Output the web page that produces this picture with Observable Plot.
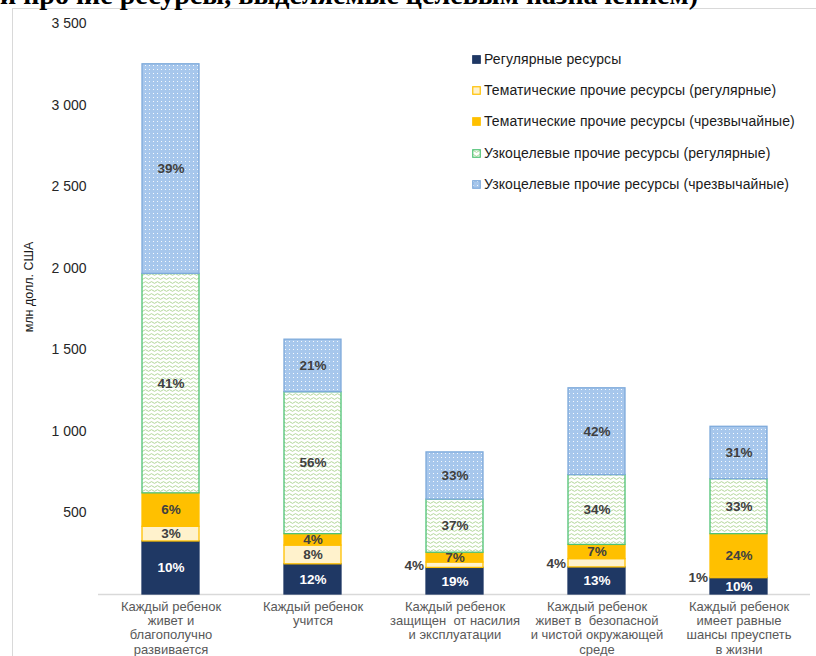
<!DOCTYPE html>
<html><head><meta charset="utf-8">
<script src="https://cdn.jsdelivr.net/npm/d3@7"></script>
<script src="https://cdn.jsdelivr.net/npm/@observablehq/plot@0.6"></script>
<style>
body{margin:0;background:#fff;font-family:"Liberation Sans",Arial,sans-serif;}
#wrap{position:relative;width:816px;height:656px;overflow:hidden;background:#fff;}
#frame{position:absolute;left:12px;top:8px;width:900px;height:700px;border-left:1.5px solid #d9d9d9;border-top:1.5px solid #d9d9d9;}
#chart{position:absolute;left:0;top:0;}
#title{position:absolute;left:0;top:0;}
#legend{position:absolute;left:472px;top:50px;font-size:14px;color:#1a1a1a;}
#legend .item{position:absolute;left:0;white-space:nowrap;height:18px;line-height:18px;}
#legend svg{position:absolute;left:0;top:5px;}
#legend span{position:absolute;left:12px;top:0;letter-spacing:0.1px;}
</style>
</head><body>
<svg width="0" height="0" style="position:absolute">
  <defs>
    <pattern id="dots" width="4" height="4" patternUnits="userSpaceOnUse">
      <rect width="4" height="4" fill="#A7C7EC"/>
      <rect x="1" y="1" width="1" height="1" fill="#ffffff" opacity="0.9"/>
    </pattern>
    <pattern id="wave" width="6" height="4" patternUnits="userSpaceOnUse">
      <rect width="6" height="4" fill="#ffffff"/>
      <path d="M0 2.5 Q1.5 0.8 3 2.5 T6 2.5" fill="none" stroke="#A9D18E" stroke-width="0.9"/>
    </pattern>
  </defs>
</svg>
<div id="wrap">
  <div id="frame"></div>
  <div id="chart"></div>
  <svg id="title" width="816" height="20"><text x="0" y="4" font-family="Liberation Serif" font-weight="bold" font-size="28" textLength="698" lengthAdjust="spacingAndGlyphs">и прочие ресурсы, выделяемые целевым назначением)</text></svg>
  <div id="legend"></div>
</div>
<script>
// ---- data ----
const categories = [
  "Каждый ребенок\nживет и\nблагополучно\nразвивается",
  "Каждый ребенок\nучится",
  "Каждый ребенок\nзащищен  от насилия\nи эксплуатации",
  "Каждый ребенок\nживет в  безопасной\nи чистой окружающей\nсреде",
  "Каждый ребенок\nимеет равные\nшансы преуспеть\nв жизни"
];
const series = [
  "Регулярные ресурсы",
  "Тематические прочие ресурсы (регулярные)",
  "Тематические прочие ресурсы (чрезвычайные)",
  "Узкоцелевые прочие ресурсы (регулярные)",
  "Узкоцелевые прочие ресурсы (чрезвычайные)"
];
// values, млн долл. США
const regular   = [325, 185, 163, 166, 100];
const themReg   = [ 90, 115,  33,  51,  10];
const themEm    = [205,  70,  60,  87, 260];
const narrowReg = [1345, 870, 326, 428, 337];
const narrowEm  = [1285, 322, 289, 532, 321];
// percent labels
const pctRegular   = [10, 12, 19, 13, 10];
const pctThemReg   = [3, 8, 4, 4, 1];
const pctThemEm    = [6, 4, 7, 7, 24];
const pctNarrowReg = [41, 56, 37, 34, 33];
const pctNarrowEm  = [39, 21, 33, 42, 31];
const yTicks = [500, 1000, 1500, 2000, 2500, 3000, 3500];
const yLabel = "млн долл. США";

// ---- styles ----
const fills   = ["#1F3864", "#FFF2CC", "#FFC000", "url(#wave)", "url(#dots)"];
const strokes = ["#1F3864", "#FFC000", "#FFC000", "#4EC274", "#7EAADB"];
const txtCol  = ["#ffffff", "#404040", "#404040", "#404040", "#404040"];

const valueSets = [regular, themReg, themEm, narrowReg, narrowEm];
const pctSets = [pctRegular, pctThemReg, pctThemEm, pctNarrowReg, pctNarrowEm];

const rows = [];
categories.forEach((cat, i) => {
  let acc = 0;
  series.forEach((s, j) => {
    const v = valueSets[j][i];
    const y1 = acc, y2 = acc + v;
    acc = y2;
    rows.push({cat, series: s, y1, y2, mid: (y1 + y2) / 2,
      label: pctSets[j][i] + "%", fill: fills[j], stroke: strokes[j], txt: txtCol[j],
      outside: v < 55});
  });
});

const chart = Plot.plot({
  width: 816, height: 656,
  marginLeft: 98, marginRight: 6, marginTop: 23, marginBottom: 62,
  style: {fontFamily: "'Liberation Sans', Arial, sans-serif", background: "transparent"},
  x: {domain: categories, paddingInner: 0.6, paddingOuter: 0.3, axis: null},
  y: {domain: [0, 3500], axis: null},
  color: {type: "identity"},
  marks: [
    Plot.ruleY([0], {stroke: "#d9d9d9", strokeWidth: 1.5}),
    Plot.barY(rows, {x: "cat", y1: "y1", y2: "y2", fill: "fill", stroke: "stroke", strokeWidth: 1.3}),
    Plot.text(rows.filter(d => !d.outside), {x: "cat", y: "mid", text: "label", fill: "txt",
      fontWeight: "bold", fontSize: 13.5}),
    Plot.text(rows.filter(d => d.outside), {x: "cat", y: "mid", text: "label", fill: "#404040",
      fontWeight: "bold", fontSize: 13.5, textAnchor: "end", dx: -31}),
    Plot.axisY(yTicks, {tickSize: 0, tickPadding: 12, fontSize: 14, color: "#262626",
      tickFormat: d => d3.format(",")(d).replace(",", " "), label: null}),
    Plot.axisX({tickSize: 0, tickPadding: 6, fontSize: 13, color: "#595959", lineHeight: 1.1, label: null})
  ]
});
d3.select(chart).append("text")
  .attr("transform", "translate(33,287) rotate(-90)")
  .attr("text-anchor", "middle")
  .attr("font-size", 12.5)
  .attr("fill", "#1a1a1a")
  .text(yLabel);
document.getElementById("chart").appendChild(chart);

// legend
const leg = d3.select("#legend");
const legY = [0, 31, 62, 94, 125];
series.forEach((s, j) => {
  const it = leg.append("div").attr("class", "item").style("top", legY[j] + "px");
  const sv = it.append("svg").attr("width", 9).attr("height", 9);
  sv.append("rect").attr("x", 0.75).attr("y", 0.75).attr("width", 7.5).attr("height", 7.5)
    .attr("fill", fills[j]).attr("stroke", strokes[j]).attr("stroke-width", 1.2);
  it.append("span").text(s);
});
</script>
</body></html>
